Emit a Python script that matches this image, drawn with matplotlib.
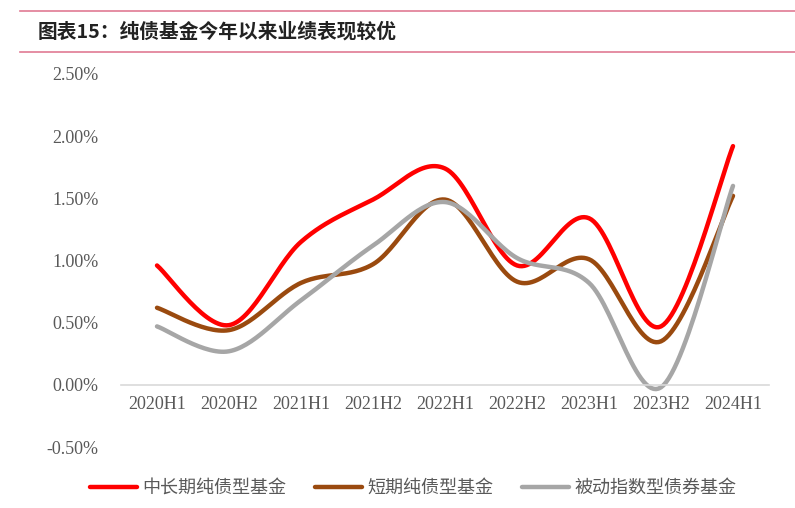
import numpy as np
import matplotlib
matplotlib.use("Agg")
import matplotlib.pyplot as plt
from matplotlib.lines import Line2D

plt.rcParams['font.family'] = ['Noto Sans CJK SC', 'DejaVu Sans']

# periods and half-year returns (%)
periods = ["2020H1", "2020H2", "2021H1", "2021H2", "2022H1",
           "2022H2", "2023H1", "2023H2", "2024H1"]
mid_long = [0.96, 0.48, 1.15, 1.49, 1.74, 0.96, 1.34, 0.47, 1.92]
short_term = [0.62, 0.44, 0.82, 0.97, 1.49, 0.83, 1.01, 0.35, 1.52]
passive_idx = [0.47, 0.27, 0.68, 1.12, 1.47, 1.02, 0.82, -0.02, 1.60]

names = ["中长期纯债型基金", "短期纯债型基金", "被动指数型债券基金"]
colors = ["#FF0000", "#9A4A0F", "#A6A6A6"]
yticks = [-0.5, 0.0, 0.5, 1.0, 1.5, 2.0, 2.5]


def smooth(y, n=30):
    # Excel-like smoothed line: cubic Bezier through points,
    # control points from neighbours (Catmull-Rom style)
    x = np.arange(len(y), dtype=float)
    y = np.asarray(y, dtype=float)
    px = np.concatenate([[x[0]], x, [x[-1]]])
    py = np.concatenate([[y[0]], y, [y[-1]]])
    xs, ys = [], []
    t = np.linspace(0, 1, n)
    for i in range(len(y) - 1):
        p0 = np.array([px[i + 1], py[i + 1]])
        p3 = np.array([px[i + 2], py[i + 2]])
        c1 = p0 + (np.array([px[i + 2], py[i + 2]]) - np.array([px[i], py[i]])) / 6
        c2 = p3 - (np.array([px[i + 3], py[i + 3]]) - np.array([px[i + 1], py[i + 1]])) / 6
        b = ((1 - t) ** 3)[:, None] * p0 + (3 * (1 - t) ** 2 * t)[:, None] * c1 \
            + (3 * (1 - t) * t ** 2)[:, None] * c2 + (t ** 3)[:, None] * p3
        xs.extend(b[:, 0])
        ys.extend(b[:, 1])
    return np.array(xs), np.array(ys)


fig = plt.figure(figsize=(7.95, 5.08), dpi=100)

# title with pink rules
fig.add_artist(Line2D([0.025, 1.0], [1 - 11 / 508, 1 - 11 / 508], color="#E07A93", lw=1.2))
fig.add_artist(Line2D([0.025, 1.0], [1 - 52 / 508, 1 - 52 / 508], color="#E07A93", lw=1.2))
fig.text(0.047, 1 - 32 / 508, "图表15：纯债基金今年以来业绩表现较优",
         fontsize=14.2, fontweight="bold", va="center", ha="left", color="#222222")

ax = fig.add_axes([121 / 795, 1 - 447 / 508, 648 / 795, 373 / 508])

# x axis sits on the zero line (set before styling tick labels)
ax.spines["bottom"].set_position(("data", 0))
ax.spines["bottom"].set_color("#D9D9D9")
ax.spines["bottom"].set_linewidth(1.2)
for s in ["top", "right", "left"]:
    ax.spines[s].set_visible(False)

for vals, name, c in zip([mid_long, short_term, passive_idx], names, colors):
    sx, sy = smooth(vals)
    ax.plot(sx, sy, color=c, lw=3.2, label=name, solid_capstyle="round")

ax.set_xlim(-0.5, len(periods) - 0.5)
ax.set_ylim(-0.5, 2.5)
ax.set_xticks(range(len(periods)))
ax.set_xticklabels(periods)
ax.set_yticks(yticks)
ax.set_yticklabels([f"{v:.2f}%" for v in yticks])

ax.tick_params(axis="both", length=0, labelsize=13, labelcolor="#595959",
               labelfontfamily="Liberation Serif")
ax.tick_params(axis="x", pad=8)
ax.tick_params(axis="y", pad=16)

leg = fig.legend(loc="center", bbox_to_anchor=(0.52, 1 - 488 / 508), ncol=3,
                 frameon=False, fontsize=13, handlelength=2.6, columnspacing=1.6,
                 handletextpad=0.3)
for t in leg.get_texts():
    t.set_color("#595959")

fig.savefig("out.png", dpi=100)
